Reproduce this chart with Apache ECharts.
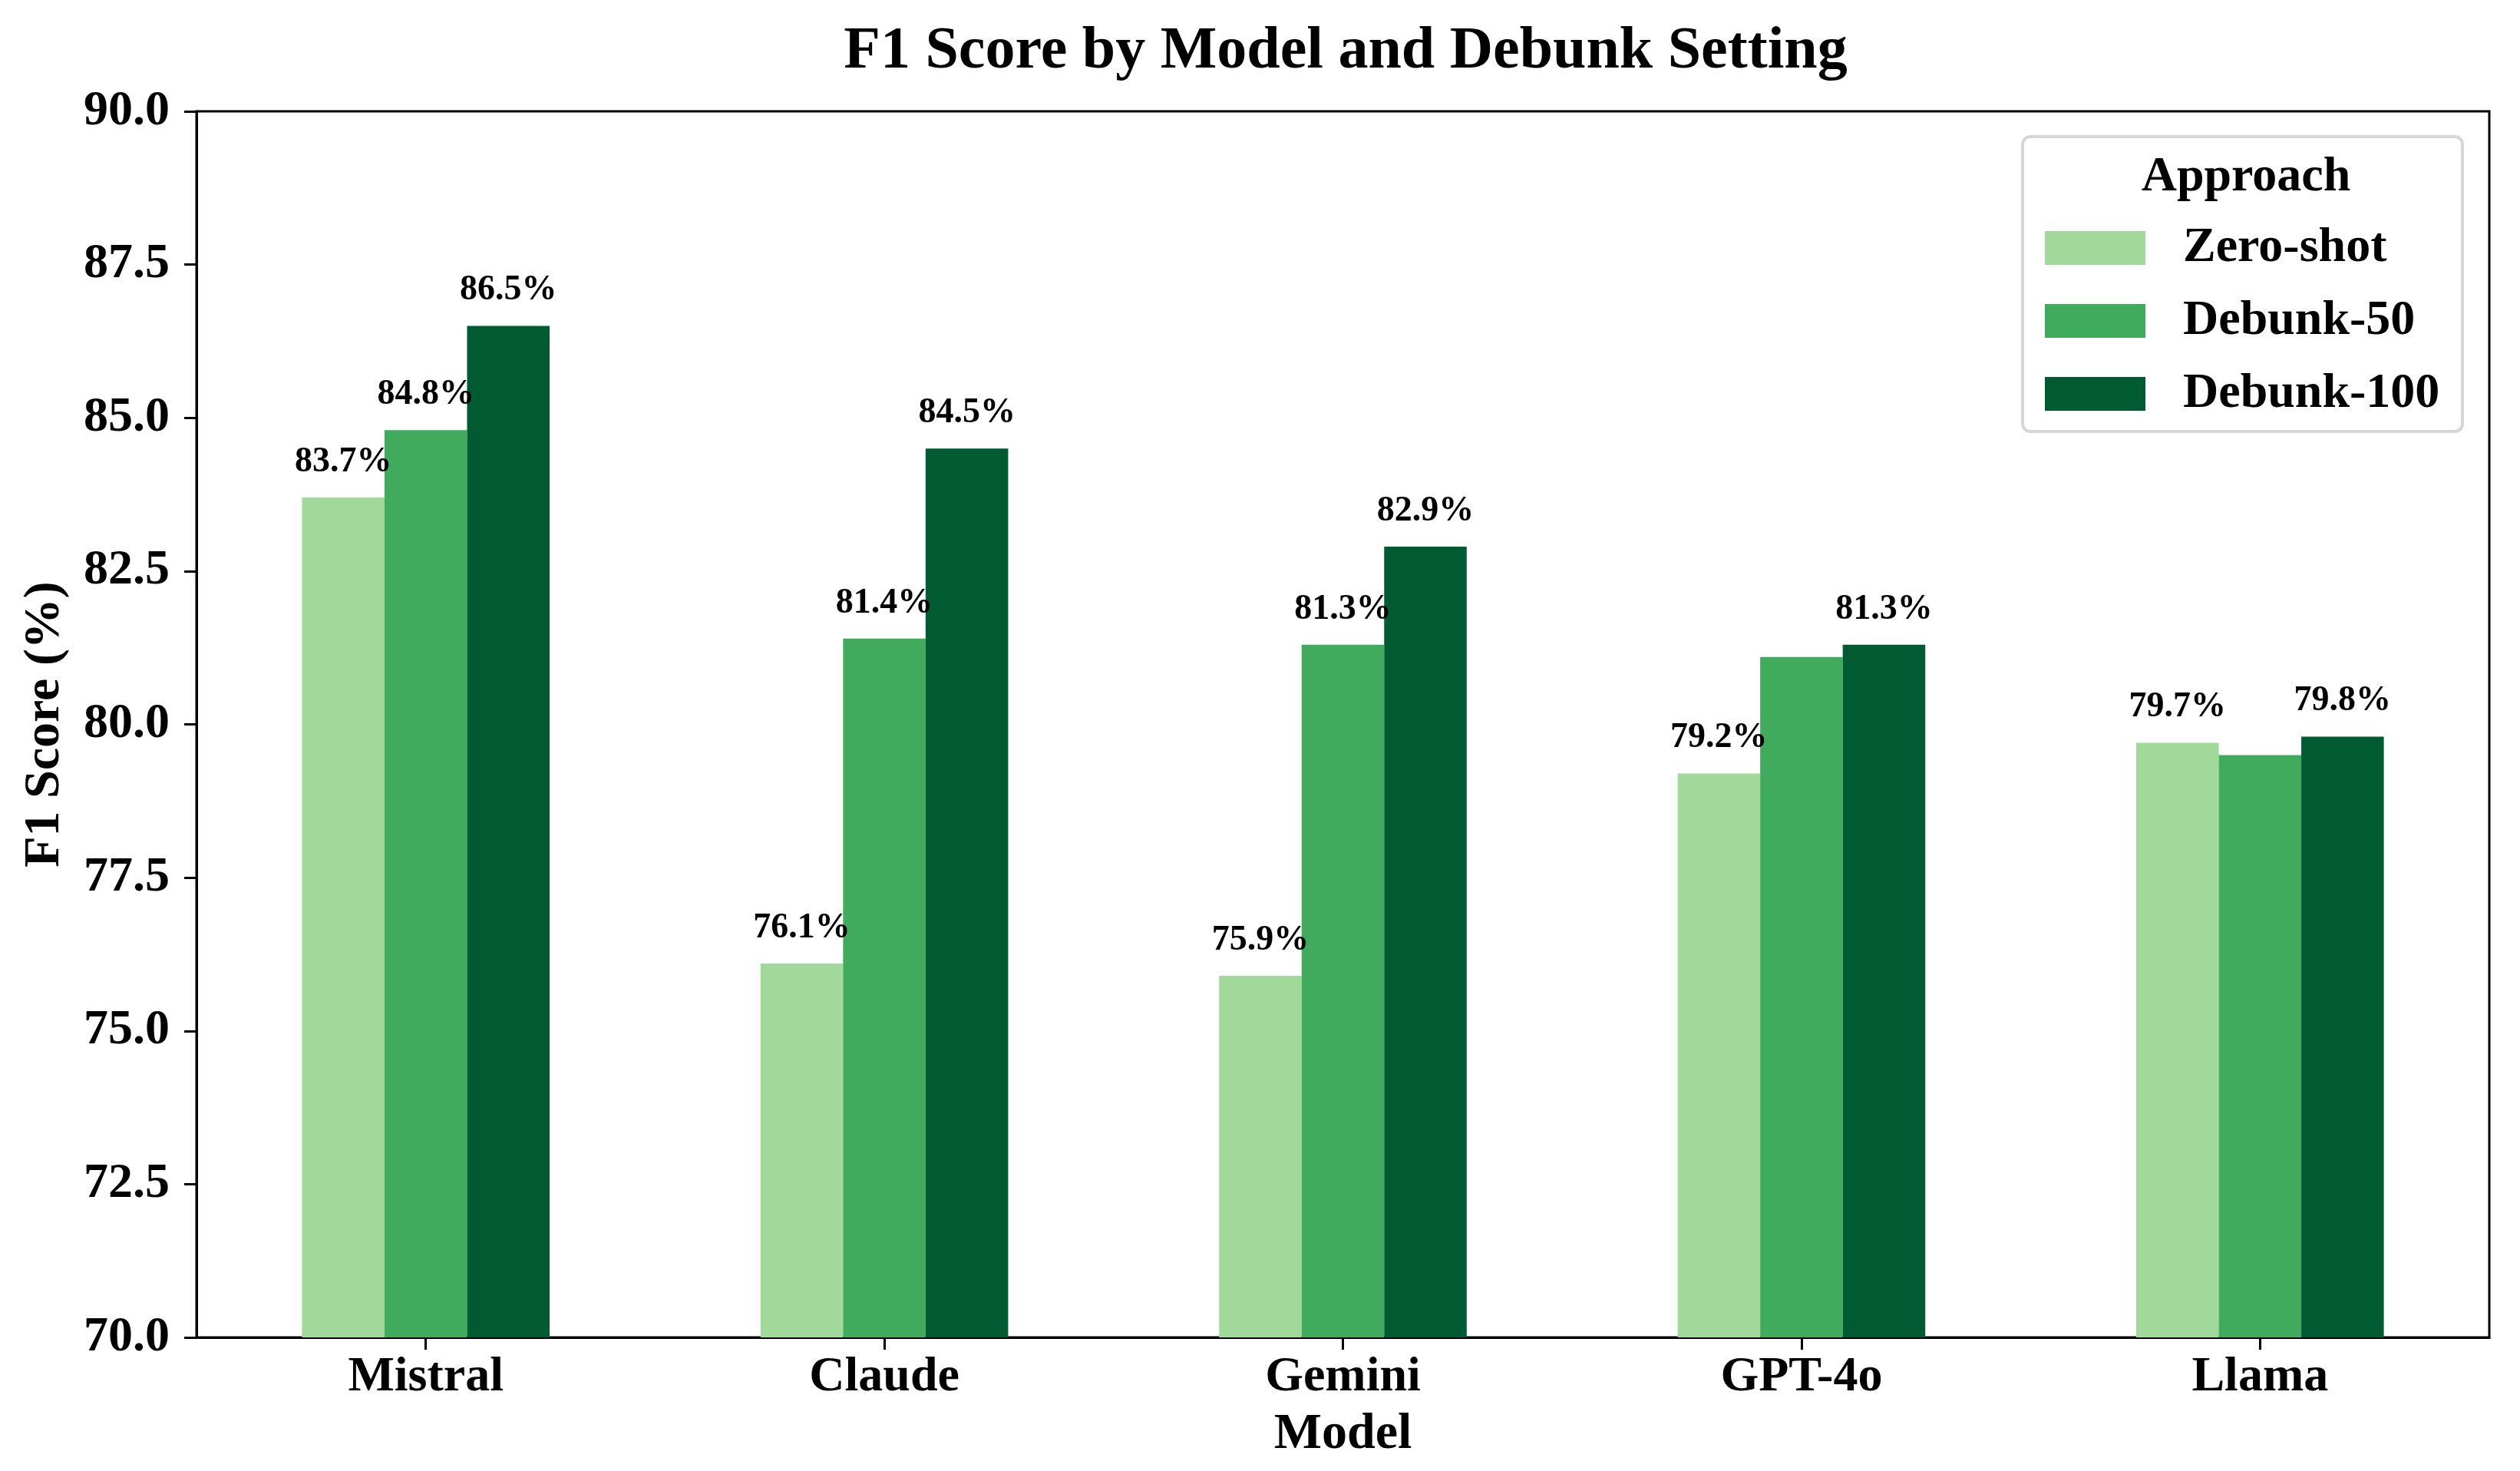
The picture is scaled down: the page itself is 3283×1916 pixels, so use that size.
<!DOCTYPE html>
<html>
<head>
<meta charset="utf-8">
<script src="https://cdn.jsdelivr.net/npm/echarts@6/dist/echarts.min.js"></script>
<style>
html,body{margin:0;padding:0;background:#fff;}
#chart{width:3283px;height:1916px;}
</style>
</head>
<body>
<div id="chart"></div>
<script>
const models = ['Mistral', 'Claude', 'Gemini', 'GPT-4o', 'Llama'];
const seriesNames = ['Zero-shot', 'Debunk-50', 'Debunk-100'];
const zeroShot = [83.7, 76.1, 75.9, 79.2, 79.7];
const debunk50 = [84.8, 81.4, 81.3, 81.1, 79.5];
const debunk100 = [86.5, 84.5, 82.9, 81.3, 79.8];
const yMin = 70, yMax = 90, yStep = 2.5;

const FONT = '"Liberation Serif", "Times New Roman", serif';
const colors = ['#a1d99b', '#41ab5d', '#005a32'];
const allValues = [zeroShot, debunk50, debunk100];

const chart = echarts.init(document.getElementById('chart'));

const series = seriesNames.map((name, i) => ({
  name: name,
  type: 'bar',
  data: allValues[i],
  barWidth: '18%',
  barGap: '0%',
  itemStyle: { color: colors[i] },
  label: {
    show: true,
    position: 'top',
    distance: 23,
    formatter: p => p.value.toFixed(1) + '%',
    fontFamily: FONT,
    fontWeight: 'bold',
    fontSize: 46,
    color: '#000'
  },
  labelLayout: { hideOverlap: true }
}));

chart.setOption({
  backgroundColor: '#fff',
  animation: false,
  color: colors,
  title: [
    {
      text: 'F1 Score by Model and Debunk Setting',
      left: 1748, top: 24, textAlign: 'center',
      textStyle: { fontFamily: FONT, fontWeight: 'bold', fontSize: 78, color: '#000' }
    },
    {
      text: 'Approach',
      left: 2921, top: 194, textAlign: 'center',
      textStyle: { fontFamily: FONT, fontWeight: 'bold', fontSize: 64, color: '#000' }
    }
  ],
  legend: {
    orient: 'vertical',
    left: 2659, top: 286,
    itemWidth: 131, itemHeight: 44, itemGap: 31,
    icon: 'rect',
    data: seriesNames,
    textStyle: {
      fontFamily: FONT, fontWeight: 'bold', fontSize: 64, color: '#000',
      lineHeight: 60, padding: [0, 0, 0, 44]
    }
  },
  graphic: [{
    type: 'rect', z: 100, silent: true,
    shape: { x: 2635, y: 178, width: 573, height: 384, r: 10 },
    style: { fill: 'none', stroke: '#d6d6d6', lineWidth: 4 }
  }],
  grid: {
    left: 256, right: 40, top: 145, bottom: 174,
    show: true, borderColor: '#000', borderWidth: 3, backgroundColor: 'transparent'
  },
  xAxis: {
    type: 'category',
    data: models,
    name: 'Model',
    nameLocation: 'middle',
    nameGap: 94,
    nameTextStyle: { fontFamily: FONT, fontWeight: 'bold', fontSize: 66, color: '#000' },
    axisLine: { show: true, lineStyle: { color: '#000', width: 3 } },
    axisTick: { show: true, alignWithLabel: true, length: 16, lineStyle: { color: '#000', width: 3 } },
    axisLabel: { margin: 20, fontFamily: FONT, fontWeight: 'bold', fontSize: 64, color: '#000' },
    splitLine: { show: false }
  },
  yAxis: {
    type: 'value',
    min: yMin, max: yMax, interval: yStep,
    name: 'F1 Score (%)',
    nameLocation: 'middle',
    nameGap: 164,
    nameRotate: 90,
    nameTextStyle: { fontFamily: FONT, fontWeight: 'bold', fontSize: 66, color: '#000' },
    axisLine: { show: true, lineStyle: { color: '#000', width: 3 } },
    axisTick: { show: true, length: 16, lineStyle: { color: '#000', width: 3 } },
    axisLabel: {
      margin: 35, fontFamily: FONT, fontWeight: 'bold', fontSize: 64, color: '#000',
      formatter: v => v.toFixed(1)
    },
    splitLine: { show: false }
  },
  series: series
});
</script>
</body>
</html>
